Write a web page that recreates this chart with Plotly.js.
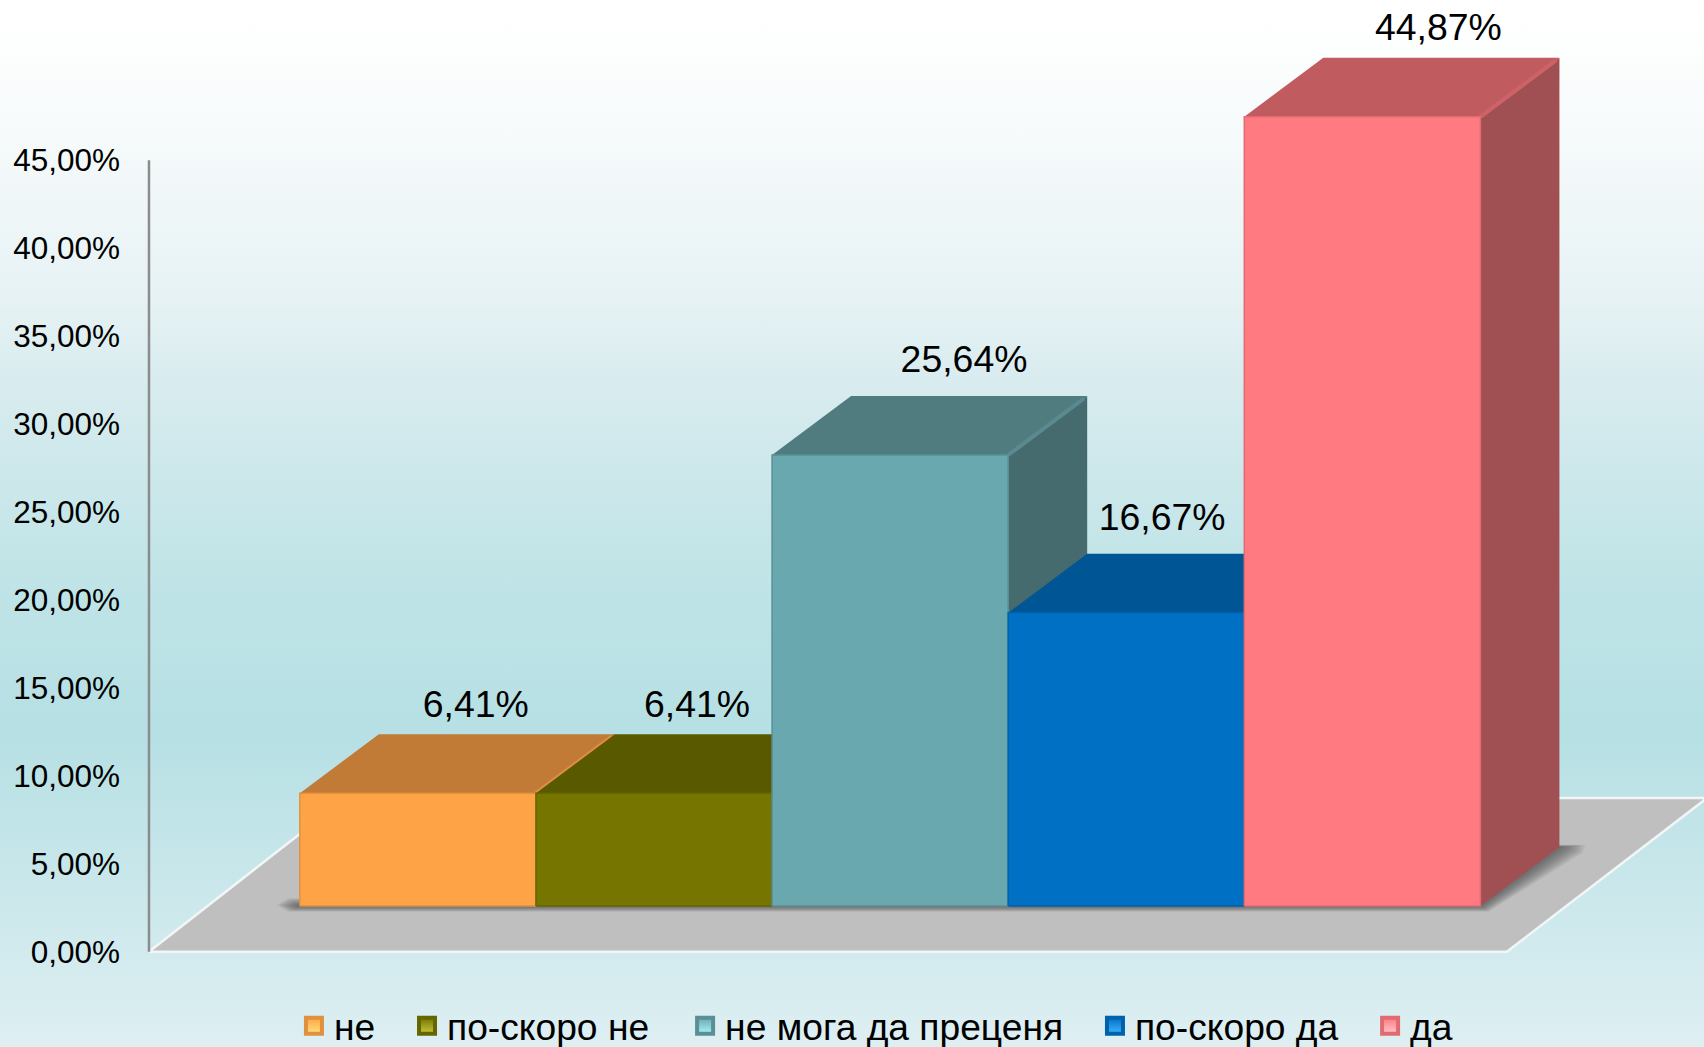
<!DOCTYPE html>
<html>
<head>
<meta charset="utf-8">
<script src="https://cdn.plot.ly/plotly-3.0.1.min.js"></script>
<style>
html,body{margin:0;padding:0;width:1704px;height:1047px;overflow:hidden;
background:linear-gradient(to bottom,#ffffff 0%,#fdfefe 5%,#f4f9fa 15%,#e6f2f4 28.6%,#d9ecef 36%,#c0e4e7 55%,#b6e0e4 70%,#deeff2 100%);}
#chart{width:1704px;height:1047px;}
</style>
</head>
<body>
<div id="chart"></div>
<script>
// Data
const categories = ['не', 'по-скоро не', 'не мога да преценя', 'по-скоро да', 'да'];
const values = [6.41, 6.41, 25.64, 16.67, 44.87];
const valueLabels = ['6,41%', '6,41%', '25,64%', '16,67%', '44,87%'];
const tickValues = [0, 5, 10, 15, 20, 25, 30, 35, 40, 45];
const tickLabels = ['0,00%', '5,00%', '10,00%', '15,00%', '20,00%', '25,00%', '30,00%', '35,00%', '40,00%', '45,00%'];

// Colours
const frontColors = ['#FFA347', '#757500', '#69A8AF', '#0070C5', '#FF7A81'];
const topColors = ['#C27B36', '#595900', '#507C80', '#005595', '#C05C60'];
const sideColors = ['#A36630', '#4A4A00', '#466B6E', '#00477C', '#A05052'];
const edgeColors = ['#E0903F', '#666600', '#5A8F95', '#0062AD', '#E06C72'];
const highlightColors = ['#DE8D42', '#646400', '#5A8A90', '#005C9F', '#CF6268'];
const iconLightColors = ['#FFE27A', '#C8C840', '#A8F4FA', '#3FB4FF', '#FFC8CC'];
const legendPadding = ['\u00a0\u00a0\u2006', '\u00a0\u00a0\u00a0', '\u00a0\u00a0\u2006', '\u00a0\u00a0\u2006', ''];

// Pseudo-3D projection, in axis units
const barWidth = 1;
const baseLift = 2.6;
const depthX = 0.3346;
const depthY = 3.354;
const floorX = [-1.139, 4.612, 5.46, -0.305];
const floorY = [0, 0, 8.74, 8.74];
const labelDx = [0.245, 0.182, 0.313, 0.152, 0.322];
const labelDy = [1.52, 1.52, 1.87, 1.87, 1.52];

const traces = [];
function poly(xs, ys, fill, line, width) {
  traces.push({type: 'scatter', mode: 'lines', x: xs.concat(xs[0]), y: ys.concat(ys[0]),
    fill: 'toself', fillcolor: fill, line: {color: line || fill, width: width === undefined ? 0 : width},
    showlegend: false, hoverinfo: 'skip'});
}
function path(xs, ys, color, width) {
  traces.push({type: 'scatter', mode: 'lines', x: xs, y: ys, line: {color: color, width: width},
    showlegend: false, hoverinfo: 'skip'});
}

// Floor
poly(floorX, floorY, '#BFBFBF', '#F2F6F6', 2.5);

// Soft shadow under the block of bars
const L = -0.5, R = values.length - 0.5;
[1, 0.93, 0.86, 0.79, 0.72, 0.65, 0.58, 0.51, 0.44, 0.37, 0.3, 0.23, 0.16, 0.09].forEach(s => {
  const sx = s * 0.1, sy = s * 0.6;
  poly([L - sx * 0.5, L - sx, L - sx * 0.5, R + sx * 0.35, R + depthX + sx, R + depthX + sx * 1.1, R + depthX],
       [baseLift + sy * 0.7, baseLift + sy * 0.1, baseLift - sy * 0.55, baseLift - sy * 0.55, baseLift + depthY - sy * 0.55, baseLift + depthY + sy * 0.2, baseLift + depthY + sy * 0.2],
       'rgba(60,60,60,0.055)');
});

// Bars, left to right so each one overlaps the side of the previous one
values.forEach((v, i) => {
  const l = i - barWidth / 2, r = i + barWidth / 2;
  const b = baseLift, t = baseLift + v;
  poly([r, r + depthX, r + depthX, r], [b, b + depthY, t + depthY, t], sideColors[i]);
  poly([l, r, r + depthX, l + depthX], [t, t, t + depthY, t + depthY], topColors[i]);
  path([r, r + depthX * 0.96], [t, t + depthY * 0.96], highlightColors[i], 4);
  poly([l, r, r, l], [b, b, t, t], frontColors[i], edgeColors[i], 1.5);
});

// Axis line
path([-1.139, -1.139], [tickValues[0], tickValues[tickValues.length - 1]], '#8C8C8C', 2.5);

// Data labels
traces.push({type: 'scatter', mode: 'text',
  x: values.map((v, i) => i + labelDx[i]),
  y: values.map((v, i) => baseLift + v + depthY + labelDy[i]),
  text: valueLabels, textposition: 'middle center',
  textfont: {family: 'Liberation Sans, Arial, sans-serif', size: 37.4, color: '#000000'},
  showlegend: false, hoverinfo: 'skip'});

// Legend entries
categories.forEach((c, i) => {
  traces.push({type: 'scatter', mode: 'markers', x: [null], y: [null],
    name: c + legendPadding[i],
    marker: {symbol: 'square', size: 16, color: frontColors[i],
      gradient: {type: 'vertical', color: iconLightColors[i]},
      line: {color: edgeColors[i], width: 4}},
    hoverinfo: 'skip'});
});

const layout = {
  width: 1704, height: 1047,
  margin: {l: 0, r: 0, t: 0, b: 0, pad: 0, autoexpand: false},
  paper_bgcolor: 'rgba(0,0,0,0)', plot_bgcolor: 'rgba(0,0,0,0)',
  showlegend: true,
  legend: {orientation: 'h', x: 0.1725, xanchor: 'left', y: 0.02, yanchor: 'middle',
    bgcolor: 'rgba(0,0,0,0)', borderwidth: 0, traceorder: 'normal',
    font: {family: 'Liberation Sans, Arial, sans-serif', size: 37.2, color: '#000000'}},
  xaxis: {visible: false, range: [-1.770, 5.447], fixedrange: true},
  yaxis: {range: [-5.42, 54.11], fixedrange: true, anchor: 'free', position: 120 / 1704,
    side: 'left', showgrid: false, zeroline: false, showline: false, ticks: '',
    tickmode: 'array', tickvals: tickValues, ticktext: tickLabels,
    tickfont: {family: 'Liberation Sans, Arial, sans-serif', size: 31.5, color: '#000000'}}
};
Plotly.newPlot('chart', traces, layout, {displayModeBar: false, staticPlot: true});
</script>
</body>
</html>
